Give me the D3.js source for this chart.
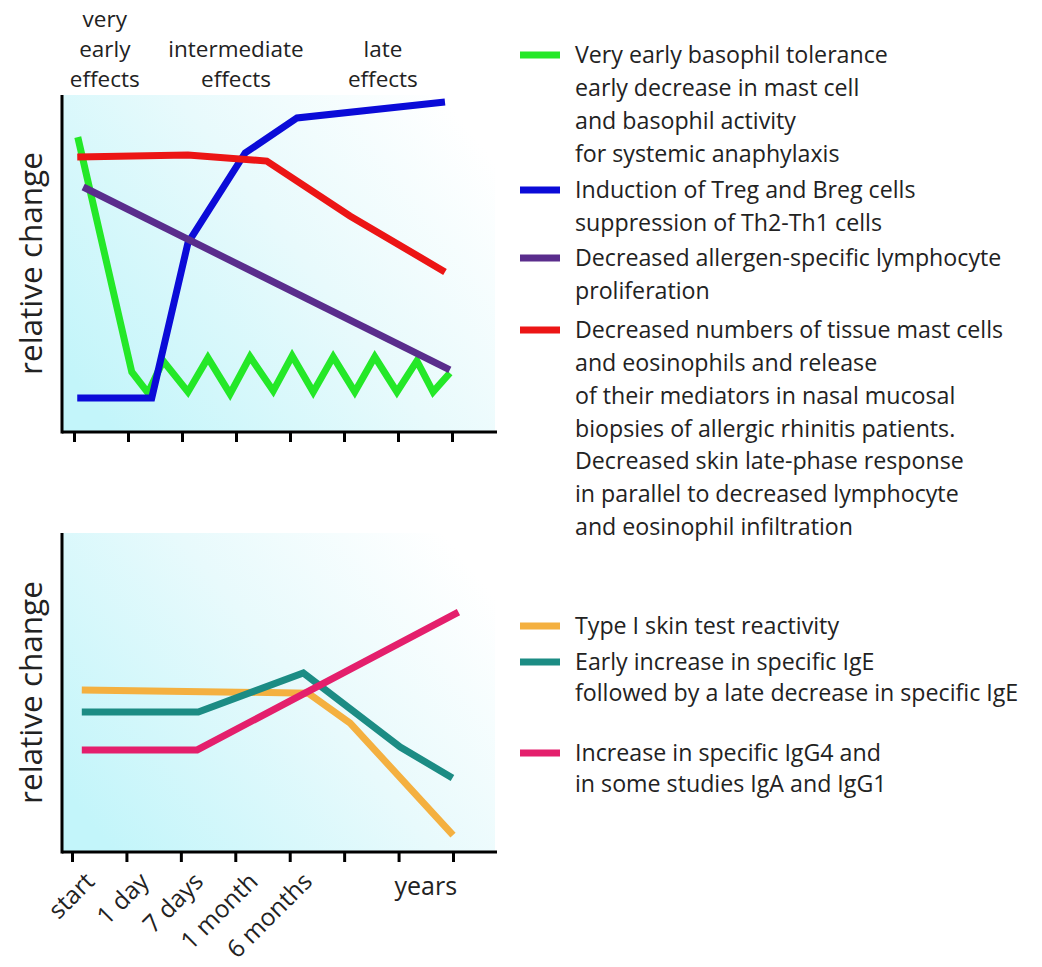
<!DOCTYPE html>
<meta charset="utf-8">
<style>
  body { margin: 0; background: #fff; }
  text { font-family: "Open Sans", sans-serif; fill: #222; }
  .tick line { stroke: #000; stroke-width: 3px; }
  .series { fill: none; stroke-width: 7px; stroke-linejoin: miter; }
</style>
<svg width="1042" height="967"></svg>
<script src="https://d3js.org/d3.v7.min.js"></script>
<script>
  // top panel series, x in tick units (0 = start ... 7), y = relative change 0-100
  var basophilTolerance = [[0.07, 87.5], [1.07, 17.8], [1.37, 11.6], [1.65, 21.1], [2.11, 11.9], [2.48, 22.0],
    [2.89, 11.3], [3.26, 22.3], [3.69, 12.2], [4.04, 22.6], [4.43, 11.9], [4.80, 22.3], [5.20, 11.9],
    [5.57, 22.3], [5.98, 11.9], [6.35, 21.1], [6.65, 11.9], [6.96, 17.5]]
  var tregInduction = [[0.06, 10.1], [1.44, 10.1], [2.11, 56.1], [3.17, 82.8], [4.13, 93.2], [6.87, 97.9]]
  var lymphoProlif = [[0.17, 72.7], [6.96, 18.4]]
  var mastCells = [[0.06, 81.6], [2.11, 82.2], [3.57, 80.4], [5.11, 64.1], [6.87, 47.5]]

  // bottom panel series
  var skinTest = [[0.18, 50.8], [4.34, 49.8], [5.11, 40.4], [7.0, 5.3]]
  var specificIgE = [[0.18, 43.9], [2.32, 43.9], [4.25, 56.1], [6.03, 32.9], [6.99, 23.2]]
  var specificIgG4 = [[0.18, 32.0], [2.30, 32.0], [7.10, 75.2]]

  var tickLabels = ["start", "1 day", "7 days", "1 month", "6 months"]
  var phaseLabels = [["very", "early", "effects"], ["intermediate", "effects"], ["late", "effects"]]
  var phasePos = [0.57, 3.0, 5.72]

  var topLegend = [
    { color: "#24e828", lines: ["Very early basophil tolerance", "early decrease in mast cell", "and basophil activity", "for systemic anaphylaxis"] },
    { color: "#0b0bd8", lines: ["Induction of Treg and Breg cells", "suppression of Th2-Th1 cells"] },
    { color: "#5a2d8c", lines: ["Decreased allergen-specific lymphocyte", "proliferation"] },
    { color: "#ec1515", lines: ["Decreased numbers of tissue mast cells", "and eosinophils and release", "of their mediators in nasal mucosal", "biopsies of allergic rhinitis patients.", "Decreased skin late-phase response", "in parallel to decreased lymphocyte", "and eosinophil infiltration"] }
  ]
  var bottomLegend = [
    { color: "#f4b040", lines: ["Type I skin test reactivity"] },
    { color: "#1c8c84", lines: ["Early increase in specific IgE", "followed by a late decrease in specific IgE"] },
    { color: "#e41f6c", lines: ["Increase in specific IgG4 and", "in some studies IgA and IgG1"] }
  ]

  var svg = d3.select("svg")
  var defs = svg.append("defs")
  var grad = defs.append("linearGradient").attr("id", "bg")
    .attr("x1", 0).attr("y1", 0.8).attr("x2", 1).attr("y2", 0.2)
  grad.append("stop").attr("offset", 0).attr("stop-color", "#c3f5fa")
  grad.append("stop").attr("offset", 0.55).attr("stop-color", "#e8fafc")
  grad.append("stop").attr("offset", 1).attr("stop-color", "#ffffff")

  function panel(top, bottom, x0, x1, seriesList) {
    var x = d3.scaleLinear().domain([0, 7]).range([x0, x1])
    var y = d3.scaleLinear().domain([0, 100]).range([bottom, top])
    var g = svg.append("g")

    g.append("rect").attr("x", 62).attr("y", top).attr("width", 433).attr("height", bottom - top)
      .attr("fill", "url(#bg)")

    var line = d3.line().x(d => x(d[0])).y(d => y(d[1]))
    g.selectAll(".series").data(seriesList).enter().append("path")
      .attr("class", "series")
      .attr("stroke", d => d.color)
      .attr("d", d => line(d.values))

    var axis = d3.axisBottom(x).tickValues(d3.range(0, 8)).tickSize(10).tickFormat("")
    g.append("g").attr("transform", "translate(0," + bottom + ")").call(axis)
      .call(a => a.select(".domain").remove())
    g.append("line").attr("x1", 62).attr("x2", 497).attr("y1", bottom).attr("y2", bottom)
      .attr("stroke", "#000").attr("stroke-width", 3)
    g.append("line").attr("x1", 62).attr("x2", 62).attr("y1", top).attr("y2", bottom + 1.5)
      .attr("stroke", "#000").attr("stroke-width", 3)

    g.append("text")
      .attr("transform", "translate(42," + (top + bottom) / 2 + ") rotate(-90)")
      .attr("text-anchor", "middle")
      .style("font-size", "31.5px")
      .text("relative change")
    return x
  }

  panel(95, 432, 74, 452, [
    { color: "#24e828", values: basophilTolerance },
    { color: "#0b0bd8", values: tregInduction },
    { color: "#ec1515", values: mastCells },
    { color: "#5a2d8c", values: lymphoProlif }
  ])

  var xb = panel(533, 852, 72, 453, [
    { color: "#f4b040", values: skinTest },
    { color: "#1c8c84", values: specificIgE },
    { color: "#e41f6c", values: specificIgG4 }
  ])

  // phase headers over the top panel
  var xt = d3.scaleLinear().domain([0, 7]).range([74, 452])
  phaseLabels.forEach(function (lines, i) {
    var t = svg.append("text").attr("text-anchor", "middle").style("font-size", "22.5px")
    var startY = 87 - (lines.length - 1) * 30
    lines.forEach(function (l, j) {
      t.append("tspan").attr("x", xt(phasePos[i])).attr("y", startY + j * 30).text(l)
    })
  })

  // rotated time labels
  svg.selectAll(".xlab").data(tickLabels).enter().append("text")
    .attr("class", "xlab")
    .attr("text-anchor", "end")
    .style("font-size", "24.5px")
    .attr("transform", (d, i) => "translate(" + (xb(i) + 24) + ",883) rotate(-45)")
    .text(d => d)
  svg.append("text").attr("x", xb(6.5)).attr("y", 895).attr("text-anchor", "middle")
    .style("font-size", "25px").text("years")

  function legend(items, starts, lineH) {
    items.forEach(function (item, i) {
      var cy = starts[i]
      svg.append("line").attr("x1", 520).attr("x2", 560).attr("y1", cy).attr("y2", cy)
        .attr("stroke", item.color).attr("stroke-width", 7)
      item.lines.forEach(function (l, j) {
        svg.append("text").attr("x", 575).attr("y", cy + j * lineH).attr("dy", "0.35em")
          .style("font-size", "23.2px").text(l)
      })
    })
  }
  legend(topLegend, [55, 190, 258, 330], 32.8)
  legend(bottomLegend, [626, 662, 753], 31)
</script>
